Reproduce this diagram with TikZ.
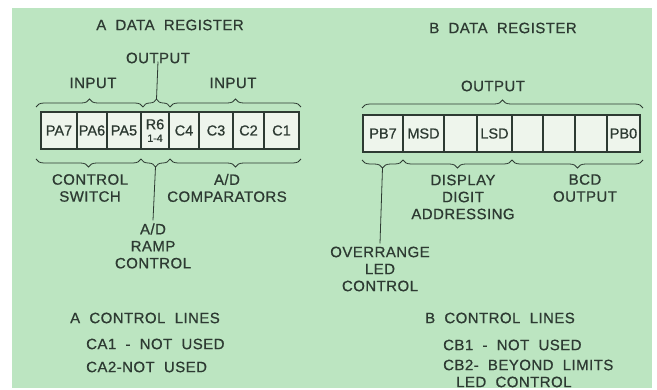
\documentclass[tikz,border=0pt]{standalone}
\usepackage{fontspec}
\setmainfont{Liberation Sans}
\newfontfamily\letterfont[LetterSpace=3,WordSpace=2.0,FakeBold=0.7]{Liberation Sans}
\newfontfamily\cellfont[FakeBold=0.7]{Liberation Sans}
\usetikzlibrary{decorations.pathreplacing}

\definecolor{panelgreen}{RGB}{188,229,193}
\definecolor{cellwhite}{RGB}{238,245,236}
\definecolor{inkgray}{RGB}{45,58,50}

\begin{document}
\begin{tikzpicture}[
    x=1pt, y=-1pt,
    % Styles for the parts
    cell/.style={rectangle, draw=inkgray, fill=cellwhite, line width=1.1pt, minimum height=37pt, inner sep=0pt, outer sep=0pt, anchor=west, text=inkgray, font=\cellfont\fontsize{14.5}{14.5}\selectfont},
    lettering/.style={text=inkgray, align=center, inner sep=0pt, font=\letterfont\fontsize{15}{17}\selectfont},
    curly/.style={decorate, decoration={brace, amplitude=8pt}, draw=inkgray, line width=0.8pt},
    lead/.style={draw=inkgray, line width=0.8pt}
]

    % =========================================================================
    % 0. THE PANEL
    % =========================================================================
    \useasboundingbox (0,0) rectangle (657,390);
    \fill[white] (0,0) rectangle (657,390);
    \fill[panelgreen] (12,8) rectangle (652,388);

    % =========================================================================
    % 1. A DATA REGISTER
    % =========================================================================
    \node[lettering] (titleA) at (170,25) {A DATA REGISTER};

    % Register cells
    \node[cell, minimum width=36pt] (pa7) at (41,130.5) {PA7};
    \node[cell, minimum width=30pt] (pa6) at (pa7.east) {PA6};
    \node[cell, minimum width=34pt] (pa5) at (pa6.east) {PA5};
    \node[cell, minimum width=28pt, align=center] (r6) at (pa5.east) {R6\\[-2pt]{\fontsize{10.5}{10.5}\selectfont 1-4}};
    \node[cell, minimum width=30pt] (c4) at (r6.east) {C4};
    \node[cell, minimum width=34pt] (c3) at (c4.east) {C3};
    \node[cell, minimum width=31pt] (c2) at (c3.east) {C2};
    \node[cell, minimum width=35pt] (c1) at (c2.east) {C1};

    % Upper braces
    \draw[curly] (36,107) -- (143,107);
    \draw[curly] (143,107) -- (170,107);
    \draw[curly] (170,107) -- (301,107);
    \coordinate (tipR6up) at (156.5,99);

    \node[lettering] (inA1) at (93,83) {INPUT};
    \node[lettering] (outA) at (158,58) {OUTPUT};
    \node[lettering] (inA2) at (233,83) {INPUT};
    \draw[lead] (outA.south) ++(0,-2) -- (tipR6up);

    % Lower braces
    \draw[curly] (141,159) -- (36,159);
    \draw[curly] (170,159) -- (141,159);
    \draw[curly] (301,159) -- (170,159);
    \coordinate (tipR6down) at (155.5,167);

    \node[lettering] (switch) at (90,188) {CONTROL\\SWITCH};
    \node[lettering] (comps) at (227,188) {A/D\\COMPARATORS};
    \node[lettering] (ramp) at (153,246) {A/D\\RAMP\\CONTROL};
    \draw[lead] (tipR6down) -- ([yshift=3pt]ramp.north);

    % Control lines
    \node[lettering] (ctlA) at (145,318) {A CONTROL LINES};
    \node[lettering, anchor=west] (ca1) at (86,344) {CA1 - NOT USED};
    \node[lettering, anchor=west] (ca2) at (86,367) {CA2-NOT USED};

    % =========================================================================
    % 2. B DATA REGISTER
    % =========================================================================
    \node[lettering] (titleB) at (503,28) {B DATA REGISTER};

    % Register cells
    \node[cell, minimum width=40pt] (pb7) at (363,133.5) {PB7};
    \node[cell, minimum width=41pt] (msd) at (pb7.east) {MSD};
    \node[cell, minimum width=33pt] (pb5) at (msd.east) {};
    \node[cell, minimum width=35pt] (lsd) at (pb5.east) {LSD};
    \node[cell, minimum width=31pt] (pb3) at (lsd.east) {};
    \node[cell, minimum width=32pt] (pb2) at (pb3.east) {};
    \node[cell, minimum width=32pt] (pb1) at (pb2.east) {};
    \node[cell, minimum width=33pt] (pb0) at (pb1.east) {PB0};

    % Upper brace
    \draw[curly] (362,108) -- (643,108);
    \node[lettering] (outB) at (493,86) {OUTPUT};

    % Lower braces
    \draw[curly] (403,160) -- (362,160);
    \draw[curly] (512,160) -- (403,160);
    \draw[curly] (643,160) -- (512,160);
    \coordinate (tipPB7) at (382.5,168);

    \node[lettering] (digits) at (463,197) {DISPLAY\\DIGIT\\ADDRESSING};
    \node[lettering] (bcd) at (585,188) {BCD\\OUTPUT};
    \node[lettering] (overrange) at (380,269) {OVERRANGE\\LED\\CONTROL};
    \draw[lead] (tipPB7) -- ([yshift=3pt]overrange.north);

    % Control lines
    \node[lettering] (ctlB) at (500,318) {B CONTROL LINES};
    \node[lettering, anchor=west] (cb1) at (443,345) {CB1 - NOT USED};
    \node[lettering, anchor=west, align=left] (cb2) at (443,373.5) {CB2- BEYOND LIMITS\\\hspace*{13pt}LED CONTROL};

\end{tikzpicture}
\end{document}
